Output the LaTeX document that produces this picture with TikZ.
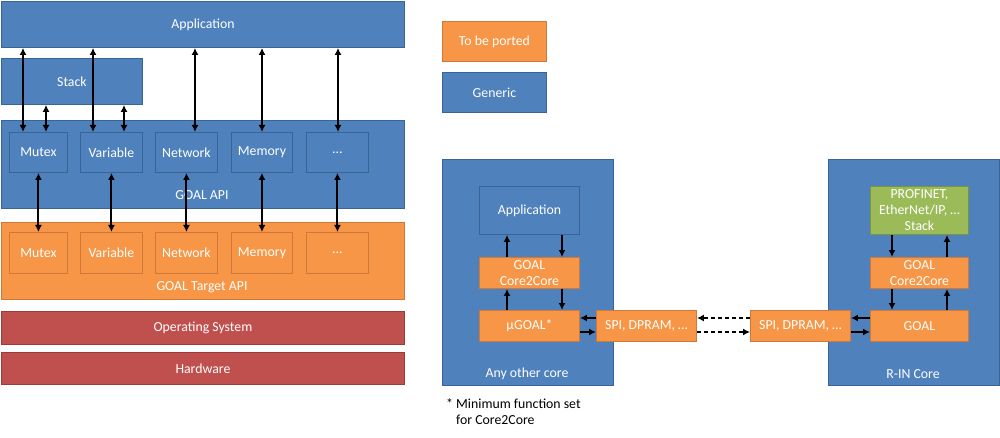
\documentclass[tikz,border=0pt]{standalone}
\usepackage{fontspec}
\setmainfont{Carlito}
\usetikzlibrary{arrows.meta}
\definecolor{cblue}{HTML}{4F81BD}
\definecolor{cblueb}{HTML}{3A6496}
\definecolor{corange}{HTML}{F79646}
\definecolor{corangeb}{HTML}{D0783A}
\definecolor{cred}{HTML}{C0504D}
\definecolor{credb}{HTML}{9A3C3A}
\definecolor{cgreen}{HTML}{9BBB59}
\definecolor{cgreenb}{HTML}{7A9540}
\tikzset{
  every node/.style={font=\fontsize{13.8}{16}\selectfont},
  basebox/.style={anchor=north west, inner sep=0pt, line width=0.9pt, text=white, align=center},
  bluebox/.style={basebox, draw=cblueb, fill=cblue},
  orangebox/.style={basebox, draw=corangeb, fill=corange},
  redbox/.style={basebox, draw=credb, fill=cred},
  greenbox/.style={basebox, draw=cgreenb, fill=cgreen},
  lbl/.style={text=white},
  arr/.style={line width=2pt, -{Latex[length=7pt,width=7pt]}},
  darr/.style={line width=2pt, {Latex[length=7pt,width=7pt]}-{Latex[length=7pt,width=7pt]}},
  dasharr/.style={arr, dash pattern=on 4pt off 3pt}
}
\begin{document}
\begin{tikzpicture}[x=1pt,y=-1pt]
\useasboundingbox (0,0) rectangle (1000,438);
% ---------- left stack ----------
\node[bluebox, minimum width=403pt, minimum height=46pt] (app) at (1,1) {Application};
\node[bluebox, minimum width=141pt, minimum height=46pt] (stack) at (1,58) {Stack};
\node[bluebox, minimum width=403pt, minimum height=88pt] (api) at (1,120) {};
\node[lbl] (apil) at (202,195) {GOAL API};
\node[bluebox, minimum width=58pt, minimum height=40pt] (apim) at (9,132) {Mutex};
\node[bluebox, minimum width=62pt, minimum height=40pt] (apiv) at (80,132) {Variable};
\node[bluebox, minimum width=62pt, minimum height=40pt] (apin) at (155,132) {Network};
\node[bluebox, minimum width=61pt, minimum height=40pt] (apime) at (231,132) {Memory};
\node[bluebox, minimum width=62pt, minimum height=40pt] (apid) at (306,132) {\dots};

\node[orangebox, minimum width=403pt, minimum height=77pt] (tgt) at (1,222) {};
\node[lbl] (tgtl) at (202,287) {GOAL Target API};
\node[orangebox, minimum width=58pt, minimum height=41pt] (tm) at (9,232) {Mutex};
\node[orangebox, minimum width=62pt, minimum height=41pt] (tv) at (80,232) {Variable};
\node[orangebox, minimum width=62pt, minimum height=41pt] (tn) at (155,232) {Network};
\node[orangebox, minimum width=61pt, minimum height=41pt] (tme) at (231,232) {Memory};
\node[orangebox, minimum width=62pt, minimum height=41pt] (td) at (306,232) {\dots};

\node[redbox, minimum width=403pt, minimum height=33pt] (os) at (1,311) {Operating System};
\node[redbox, minimum width=403pt, minimum height=32pt] (hw) at (1,352) {Hardware};

\draw[darr] (app.south -| 23,0) -- (apim.north -| 23,0);
\draw[darr] (stack.south -| 46,0) -- (apim.north -| 46,0);
\draw[darr] (app.south -| 93,0) -- (apiv.north -| 93,0);
\draw[darr] (stack.south -| 124,0) -- (apiv.north -| 124,0);
\draw[darr] (app.south -| 195,0) -- (apin.north -| 195,0);
\draw[darr] (app.south -| 262,0) -- (apime.north -| 262,0);
\draw[darr] (app.south -| 338,0) -- (apid.north -| 338,0);

\draw[darr] (apim.south) -- (tm.north);
\draw[darr] (apiv.south) -- (tv.north);
\draw[darr] (apin.south) -- (tn.north);
\draw[darr] (apime.south) -- (tme.north);
\draw[darr] (apid.south) -- (td.north);

% ---------- legend ----------
\node[orangebox, minimum width=104pt, minimum height=40pt] (port) at (442,21) {To be ported};
\node[bluebox, minimum width=104pt, minimum height=40pt] (gen) at (442,72) {Generic};

% ---------- any other core ----------
\node[bluebox, minimum width=171pt, minimum height=226pt] (core1) at (442,159) {};
\node[lbl] (core1l) at (527,374) {Any other core};
\node[bluebox, minimum width=100pt, minimum height=48pt] (app2) at (479,186) {Application};
\node[orangebox, minimum width=100pt, minimum height=31pt] (c2c1) at (479,257) {GOAL\\Core2Core};
\node[orangebox, minimum width=100pt, minimum height=31pt] (ug) at (479,310) {µGOAL*};
\node[orangebox, minimum width=100pt, minimum height=31pt] (spi1) at (596,310) {SPI, DPRAM, \dots};

\draw[arr] (c2c1.north -| 507,0) -- (app2.south -| 507,0);
\draw[arr] (app2.south -| 562,0) -- (c2c1.north -| 562,0);
\draw[arr] (ug.north -| 507,0) -- (c2c1.south -| 507,0);
\draw[arr] (c2c1.south -| 562,0) -- (ug.north -| 562,0);
\draw[arr] (spi1.west |- 0,318) -- (ug.east |- 0,318);
\draw[arr] (ug.east |- 0,332) -- (spi1.west |- 0,332);

% ---------- R-IN core ----------
\node[bluebox, minimum width=171pt, minimum height=226pt] (core2) at (828,159) {};
\node[lbl] (core2l) at (913,374) {R-IN Core};
\node[greenbox, minimum width=98pt, minimum height=48pt] (prof) at (870,186) {PROFINET,\\EtherNet/IP, \dots\\Stack};
\node[orangebox, minimum width=98pt, minimum height=31pt] (c2c2) at (870,257) {GOAL\\Core2Core};
\node[orangebox, minimum width=98pt, minimum height=31pt] (goal) at (870,310) {GOAL};
\node[orangebox, minimum width=100pt, minimum height=31pt] (spi2) at (750,310) {SPI, DPRAM, \dots};

\draw[arr] (prof.south -| 892,0) -- (c2c2.north -| 892,0);
\draw[arr] (c2c2.north -| 947,0) -- (prof.south -| 947,0);
\draw[arr] (c2c2.south -| 892,0) -- (goal.north -| 892,0);
\draw[arr] (goal.north -| 947,0) -- (c2c2.south -| 947,0);
\draw[arr] (goal.west |- 0,318) -- (spi2.east |- 0,318);
\draw[arr] (spi2.east |- 0,332) -- (goal.west |- 0,332);

\draw[dasharr] (spi2.west |- 0,318) -- (spi1.east |- 0,318);
\draw[dasharr] (spi1.east |- 0,332) -- (spi2.west |- 0,332);

% ---------- footnote ----------
\node[anchor=north west, align=left, inner sep=0pt] (note) at (446,398) {* Minimum function set\\\phantom{* }for Core2Core};
\end{tikzpicture}
\end{document}
